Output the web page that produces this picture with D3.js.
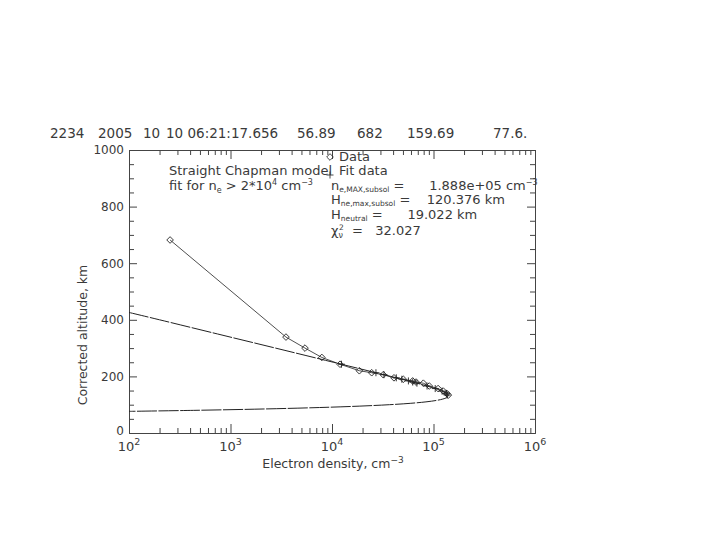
<!DOCTYPE html>
<html>
<head>
<meta charset="utf-8">
<script src="https://cdn.jsdelivr.net/npm/d3@7"></script>
<style>
  body { margin: 0; background: #fff; }
  svg { display: block; }
  text { font-family: "DejaVu Sans", sans-serif; fill: #3a3a3a; }
</style>
</head>
<body>
<svg id="chart" width="720" height="540"></svg>
<script>
// header line of the plot (orbit, date, time, SZA, alt ...)
var headerItems = ["2234", "2005", "10", "10 06:21:17.656", "56.89", "682", "159.69", "77.6."];
var headerX = [50, 98, 143, 166, 297, 357, 407, 493];

// measured profile (diamonds)
var density = [254, 3520, 5420, 7940, 12000, 18600, 24600, 32000, 40800, 50400, 62300, 67300, 79400, 90900, 111000, 125000, 135000, 140000];
var altitude = [682, 339, 300, 267, 243, 220, 213, 206, 195, 190, 184, 180, 176, 166, 157, 148, 140, 134];

// fit values at the data altitudes (plus signs)
var fitPointDensity = [12400, 27100, 32500, 43000, 48800, 56600, 62400, 68700, 86400, 104000, 121500, 134100, 136300];
var fitPointAltitude = [243, 213, 206, 195, 190, 184, 180, 176, 166, 157, 148, 140, 134];

// Chapman fit curve
var fitDensity = [100, 200, 744, 2780, 10300, 22600, 37900, 62400, 88200, 117800, 134100, 139500, 134500, 123600, 106500, 84300, 59800, 36800, 18800, 7540, 2200, 430, 100];
var fitAltitude = [426, 400, 350, 300, 250, 220, 200, 180, 165, 150, 140, 132, 125, 120, 115, 110, 105, 100, 95, 90, 85, 80, 76.5];

var xMajor = [1e2, 1e3, 1e4, 1e5, 1e6];
var xExp = ["2", "3", "4", "5", "6"];
var yMajor = [0, 200, 400, 600, 800, 1000];

var pLeft = 129, pRight = 535, pTop = 150, pBottom = 433;

var svg = d3.select("#chart");

var x = d3.scaleLog().domain([1e2, 1e6]).range([pLeft, pRight]);
var y = d3.scaleLinear().domain([0, 1000]).range([pBottom, pTop]);

// minor ticks for log axis
var xMinor = [];
for (var e = 2; e < 6; e++) {
    for (var m = 2; m <= 9; m++) xMinor.push(m * Math.pow(10, e));
}
var yMinor = d3.range(0, 1001, 50).filter(function(v) { return v % 200 != 0; });

svg.append("clipPath").attr("id", "clip")
    .append("rect").attr("x", pLeft).attr("y", pTop)
    .attr("width", pRight - pLeft).attr("height", pBottom - pTop);

// axes, all ticks pointing inward
function styleAxis(g) {
    g.select(".domain").attr("stroke", "#444").attr("stroke-width", 1);
    g.selectAll(".tick line").attr("stroke", "#444").attr("stroke-width", 1);
}

svg.append("g").attr("transform", "translate(0," + pBottom + ")")
    .call(d3.axisBottom(x).tickValues(xMajor).tickSizeInner(-9).tickSizeOuter(0).tickFormat(""))
    .call(styleAxis);
svg.append("g").attr("transform", "translate(0," + pBottom + ")")
    .call(d3.axisBottom(x).tickValues(xMinor).tickSizeInner(-5).tickSizeOuter(0).tickFormat(""))
    .call(styleAxis);
svg.append("g").attr("transform", "translate(0," + pTop + ")")
    .call(d3.axisTop(x).tickValues(xMajor).tickSizeInner(-9).tickSizeOuter(0).tickFormat(""))
    .call(styleAxis);
svg.append("g").attr("transform", "translate(0," + pTop + ")")
    .call(d3.axisTop(x).tickValues(xMinor).tickSizeInner(-5).tickSizeOuter(0).tickFormat(""))
    .call(styleAxis);

var yl = svg.append("g").attr("transform", "translate(" + pLeft + ",0)")
    .call(d3.axisLeft(y).tickValues(yMajor).tickSizeInner(-8).tickSizeOuter(0).tickPadding(5).tickFormat(d3.format("d")))
    .call(styleAxis);
yl.selectAll("text").style("font-size", "12px").style("font-family", "DejaVu Sans").attr("fill", "#555");
yl.selectAll(".tick").filter(function(d) { return d === 0; }).select("text").attr("dy", "0.1em");
svg.append("g").attr("transform", "translate(" + pLeft + ",0)")
    .call(d3.axisLeft(y).tickValues(yMinor).tickSizeInner(-5).tickSizeOuter(0).tickFormat(""))
    .call(styleAxis);
svg.append("g").attr("transform", "translate(" + pRight + ",0)")
    .call(d3.axisRight(y).tickValues(yMajor).tickSizeInner(-8).tickSizeOuter(0).tickFormat(""))
    .call(styleAxis);
svg.append("g").attr("transform", "translate(" + pRight + ",0)")
    .call(d3.axisRight(y).tickValues(yMinor).tickSizeInner(-5).tickSizeOuter(0).tickFormat(""))
    .call(styleAxis);

// x tick labels 10^n
xMajor.forEach(function(v, i) {
    var t = svg.append("text").attr("x", x(v)).attr("y", 451)
        .attr("text-anchor", "middle").style("font-size", "13px");
    t.append("tspan").text("10");
    t.append("tspan").attr("dy", -6).style("font-size", "9.5px").text(xExp[i]);
});

// axis titles
var xt = svg.append("text").attr("x", 333).attr("y", 468).attr("text-anchor", "middle").style("font-size", "12.5px");
xt.append("tspan").text("Electron density, cm");
xt.append("tspan").attr("dy", -5).style("font-size", "9px").text("\u22123");

svg.append("text").attr("transform", "translate(87,335) rotate(-90)")
    .attr("text-anchor", "middle").style("font-size", "12.5px")
    .text("Corrected altitude, km");

// header
headerItems.forEach(function(s, i) {
    svg.append("text").attr("x", headerX[i]).attr("y", 138)
        .style("font-size", "13.5px").attr("xml:space", "preserve").text(s);
});

var plot = svg.append("g").attr("clip-path", "url(#clip)");

// fit curve
var fitLine = d3.line()
    .x(function(d) { return x(d[0]); })
    .y(function(d) { return y(d[1]); })
    .curve(d3.curveCatmullRom.alpha(0.5));
plot.append("path")
    .datum(d3.zip(fitDensity, fitAltitude))
    .attr("d", fitLine)
    .attr("fill", "none").attr("stroke", "#222").attr("stroke-width", 1)
    .attr("stroke-dasharray", "20,1.5");

// data line
var dataLine = d3.line()
    .x(function(d) { return x(d[0]); })
    .y(function(d) { return y(d[1]); });
plot.append("path")
    .datum(d3.zip(density, altitude))
    .attr("d", dataLine)
    .attr("fill", "none").attr("stroke", "#222").attr("stroke-width", 0.8);

// diamonds
var dia = d3.symbol().type(d3.symbolDiamond2).size(28);
plot.selectAll(".dia").data(d3.zip(density, altitude)).enter()
    .append("path").attr("class", "dia")
    .attr("transform", function(d) { return "translate(" + x(d[0]) + "," + y(d[1]) + ")"; })
    .attr("d", dia)
    .attr("fill", "none").attr("stroke", "#222").attr("stroke-width", 0.9);

// plus markers
var plusPath = "M-3.5,0H3.5M0,-3.5V3.5";
plot.selectAll(".plus").data(d3.zip(fitPointDensity, fitPointAltitude)).enter()
    .append("path").attr("class", "plus")
    .attr("transform", function(d) { return "translate(" + x(d[0]) + "," + y(d[1]) + ")"; })
    .attr("d", plusPath)
    .attr("fill", "none").attr("stroke", "#222").attr("stroke-width", 0.9);

// legend
svg.append("path").attr("transform", "translate(330,157)").attr("d", dia)
    .attr("fill", "none").attr("stroke", "#333").attr("stroke-width", 0.9);
svg.append("text").attr("x", 339).attr("y", 161).style("font-size", "13px").text("Data");
svg.append("path").attr("transform", "translate(330,175)").attr("d", plusPath)
    .attr("fill", "none").attr("stroke", "#333").attr("stroke-width", 0.9);
svg.append("text").attr("x", 339).attr("y", 175).style("font-size", "13px").text("Fit data");

svg.append("text").attr("x", 169).attr("y", 175).style("font-size", "13px").text("Straight Chapman model");
var ft = svg.append("text").attr("x", 169).attr("y", 190).style("font-size", "13px").attr("xml:space", "preserve");
ft.append("tspan").text("fit for n");
ft.append("tspan").attr("dy", 3).style("font-size", "8px").text("e");
ft.append("tspan").attr("dy", -3).text(" > 2*10");
ft.append("tspan").attr("dy", -5).style("font-size", "8px").text("4");
ft.append("tspan").attr("dy", 5).text(" cm");
ft.append("tspan").attr("dy", -5).style("font-size", "8px").text("\u22123");

function paramLine(yy, sym, sub, rest, sup) {
    var t = svg.append("text").attr("x", 331).attr("y", yy).style("font-size", "13px").attr("xml:space", "preserve");
    t.append("tspan").text(sym);
    t.append("tspan").attr("dy", 2).style("font-size", "7.5px").text(sub);
    t.append("tspan").attr("dy", -2).text(rest);
    if (sup) t.append("tspan").attr("dy", -5).style("font-size", "8px").text(sup);
}
paramLine(190, "n", "e,MAX,subsol", " =      1.888e+05 cm", "\u22123");
paramLine(204, "H", "ne,max,subsol", " =    120.376 km");
paramLine(219, "H", "neutral", " =      19.022 km");

var ch = svg.append("text").attr("x", 331).attr("y", 235).style("font-size", "13px").attr("xml:space", "preserve");
ch.append("tspan").text("\u03c7");
ch.append("tspan").attr("dy", 3).style("font-size", "8px").text("\u03bd");
ch.append("tspan").attr("dx", -4).attr("dy", -8).style("font-size", "7.5px").text("2");
ch.append("tspan").attr("dy", 5).text("  =   32.027");
</script>
</body>
</html>
